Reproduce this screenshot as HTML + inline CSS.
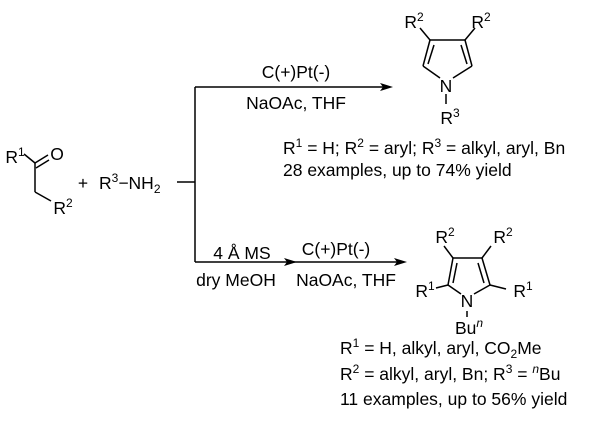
<!DOCTYPE html>
<html><head><meta charset="utf-8"><style>
html,body{margin:0;padding:0;background:#fff;}
svg{display:block;}
text{font-family:"Liberation Sans",Arial,sans-serif;fill:#000;}
</style></head><body>
<svg width="600" height="421" viewBox="0 0 600 421" xmlns="http://www.w3.org/2000/svg">
<g stroke="#000" stroke-width="1.5" fill="none">
<!-- ketone -->
<line x1="24" y1="154" x2="35" y2="163"/>
<line x1="35" y1="163" x2="48" y2="155"/>
<line x1="36" y1="168" x2="49" y2="160"/>
<line x1="35" y1="163" x2="35" y2="192"/>
<line x1="35" y1="192" x2="51" y2="201"/>
<line x1="177" y1="182" x2="195" y2="182"/>
<!-- scheme lines -->
<line x1="195" y1="87" x2="195" y2="262"/>
<line x1="195" y1="87" x2="385" y2="87"/>
<line x1="195" y1="262" x2="290" y2="262"/>
<line x1="290" y1="262" x2="400" y2="262"/>
<!-- top pyrrole -->
<line x1="430" y1="40" x2="465" y2="40"/>
<line x1="430" y1="40" x2="423" y2="66"/>
<line x1="434" y1="45" x2="428" y2="64"/>
<line x1="465" y1="40" x2="472" y2="66"/>
<line x1="461" y1="45" x2="467" y2="64"/>
<line x1="423" y1="66" x2="440" y2="78"/>
<line x1="472" y1="66" x2="453" y2="78"/>
<line x1="430" y1="40" x2="420" y2="28"/>
<line x1="465" y1="40" x2="475" y2="28"/>
<line x1="446" y1="94" x2="446" y2="104"/>
<!-- bottom pyrrole -->
<line x1="453" y1="258" x2="482" y2="258"/>
<line x1="453" y1="258" x2="448" y2="285"/>
<line x1="457" y1="263" x2="453" y2="283"/>
<line x1="482" y1="258" x2="490" y2="285"/>
<line x1="478" y1="263" x2="484" y2="283"/>
<line x1="448" y1="285" x2="461" y2="294"/>
<line x1="490" y1="285" x2="474" y2="294"/>
<line x1="453" y1="258" x2="444" y2="246"/>
<line x1="482" y1="258" x2="491" y2="246"/>
<line x1="448" y1="285" x2="436" y2="288"/>
<line x1="490" y1="285" x2="506" y2="289"/>
<line x1="467" y1="311" x2="467" y2="317"/>
</g>
<g fill="#000">
<polygon points="393,87 380,83 383,87 380,91"/>
<polygon points="297,262 284,258 287,262 284,266"/>
<polygon points="407,262 394,258 397,262 394,266"/>
</g>
<g font-size="17.5">
<!-- ketone -->
<text x="15" y="163" text-anchor="middle">R<tspan font-size="12" dy="-7">1</tspan></text>
<text x="57" y="160" text-anchor="middle">O</text>
<text x="63" y="214" text-anchor="middle">R<tspan font-size="12" dy="-7">2</tspan></text>
<text x="83" y="189" text-anchor="middle">+</text>
<text x="99" y="189">R<tspan font-size="12" dy="-7">3</tspan><tspan dy="7">−NH</tspan><tspan font-size="12" dy="4">2</tspan></text>
<!-- conditions -->
<text x="296" y="78" text-anchor="middle">C(+)Pt(-)</text>
<text x="296" y="109" text-anchor="middle">NaOAc, THF</text>
<text x="242" y="259" text-anchor="middle">4 Å MS</text>
<text x="336" y="255" text-anchor="middle">C(+)Pt(-)</text>
<text x="236" y="286" text-anchor="middle">dry MeOH</text>
<text x="346" y="286" text-anchor="middle">NaOAc, THF</text>
<!-- top pyrrole -->
<text x="414" y="28" text-anchor="middle">R<tspan font-size="12" dy="-7">2</tspan></text>
<text x="481" y="28" text-anchor="middle">R<tspan font-size="12" dy="-7">2</tspan></text>
<text x="446" y="92" text-anchor="middle">N</text>
<text x="450" y="124" text-anchor="middle">R<tspan font-size="12" dy="-7">3</tspan></text>
<text x="283" y="154">R<tspan font-size="12" dy="-7">1</tspan><tspan dy="7"> = H; R</tspan><tspan font-size="12" dy="-7">2</tspan><tspan dy="7"> = aryl; R</tspan><tspan font-size="12" dy="-7">3</tspan><tspan dy="7"> = alkyl, aryl, Bn</tspan></text>
<text x="283" y="176">28 examples, up to 74% yield</text>
<!-- bottom pyrrole -->
<text x="445" y="243" text-anchor="middle">R<tspan font-size="12" dy="-7">2</tspan></text>
<text x="503" y="243" text-anchor="middle">R<tspan font-size="12" dy="-7">2</tspan></text>
<text x="425" y="297" text-anchor="middle">R<tspan font-size="12" dy="-7">1</tspan></text>
<text x="523" y="297" text-anchor="middle">R<tspan font-size="12" dy="-7">1</tspan></text>
<text x="467" y="307" text-anchor="middle">N</text>
<text x="469" y="334" text-anchor="middle">Bu<tspan font-size="12" dy="-7" font-style="italic">n</tspan></text>
<text x="340" y="354">R<tspan font-size="12" dy="-7">1</tspan><tspan dy="7"> = H, alkyl, aryl, CO</tspan><tspan font-size="12" dy="4">2</tspan><tspan dy="-4">Me</tspan></text>
<text x="340" y="380">R<tspan font-size="12" dy="-7">2</tspan><tspan dy="7"> =  alkyl, aryl, Bn; R</tspan><tspan font-size="12" dy="-7">3</tspan><tspan dy="7"> = </tspan><tspan font-size="12" dy="-7" font-style="italic">n</tspan><tspan dy="7">Bu</tspan></text>
<text x="340" y="405">11 examples,  up to 56% yield</text>
</g>
</svg>
</body></html>
